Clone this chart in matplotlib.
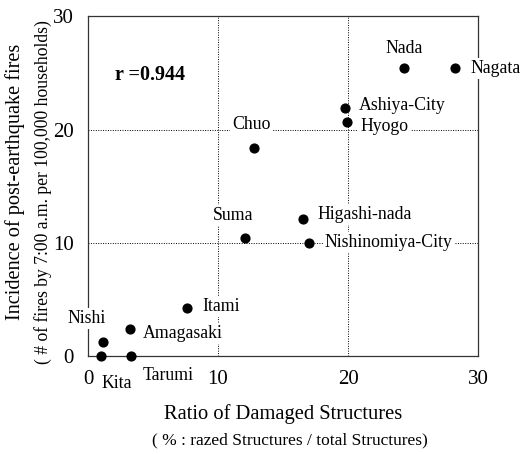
import matplotlib.pyplot as plt
import numpy as np

plt.rcParams['font.family'] = ['Liberation Serif', 'DejaVu Serif']

names = ['Nada', 'Nagata', 'Ashiya-City', 'Hyogo', 'Chuo', 'Higashi-nada', 'Suma',
         'Nishinomiya-City', 'Itami', 'Amagasaki', 'Nishi', 'Kita', 'Tarumi']
ratio = [24.3, 28.2, 19.8, 19.9, 12.8, 16.5, 12.1, 17.0, 7.6, 3.2, 1.15, 1.0, 3.3]
fires = [25.4, 25.4, 21.9, 20.7, 18.4, 12.1, 10.4, 10.0, 4.2, 2.4, 1.2, 0.0, 0.0]
ticks = [0, 10, 20, 30]

# label offsets in points (dx, dy, ha)
offsets = {
    'Nada': (0, 14.4, 'center'), 'Nagata': (11.5, 0, 'left'), 'Ashiya-City': (9.4, 2, 'left'),
    'Hyogo': (10, -3.6, 'left'), 'Chuo': (-2, 16.5, 'center'), 'Higashi-nada': (11, 3, 'left'),
    'Suma': (-9, 16.5, 'center'), 'Nishinomiya-City': (11.5, 0, 'left'),
    'Itami': (11.5, 1.5, 'left'), 'Amagasaki': (9.4, -3.6, 'left'), 'Nishi': (-11.5, 17, 'center'),
    'Kita': (11, -20, 'center'), 'Tarumi': (26.5, -14.4, 'center'),
}

fig = plt.figure(figsize=(5.21, 4.54), dpi=100)
ax = fig.add_axes([0.1689, 0.2159, 0.7486, 0.748])
ax.set_xlim(0, 30)
ax.set_ylim(0, 30)
ax.set_xticks(ticks)
ax.set_yticks(ticks)
ax.tick_params(length=0, labelsize=15)
ax.tick_params(axis='x', pad=10)
ax.tick_params(axis='y', pad=10)
for v in [10, 20]:
    ax.axvline(v, color='black', lw=0.7, ls=(0, (1, 1.5)), zorder=0)
    ax.axhline(v, color='black', lw=0.7, ls=(0, (1, 1.5)), zorder=0)
for s in ax.spines.values():
    s.set_linewidth(0.9)
    s.set_color('#333333')

ax.scatter(ratio, fires, s=40, color='black', zorder=3, clip_on=False)
for n, x, y in zip(names, ratio, fires):
    dx, dy, ha = offsets[n]
    ax.annotate(n, (x, y), xytext=(dx, dy), textcoords='offset points', ha=ha, va='center',
                fontsize=12.8, zorder=4, annotation_clip=False,
                bbox=dict(facecolor='white', edgecolor='none', pad=1.5))

ax.text(2.08, 24.8, 'r =0.944', fontsize=14.5, fontweight='bold', va='center')

fig.text(0.029, 0.600, 'Incidence of post-earthquake fires', rotation=90, fontsize=14.6,
         ha='center', va='center')
fig.text(0.083, 0.578, '( # of fires by 7:00 a.m. per 100,000 households)', rotation=90,
         fontsize=12.7, ha='center', va='center')
fig.text(0.543, 0.078, 'Ratio of Damaged Structures', fontsize=14.8, ha='center',
         va='baseline')
fig.text(0.557, 0.022, '( % : razed Structures / total Structures)', fontsize=12.5,
         ha='center', va='baseline')

plt.savefig('out.png', dpi=100)
